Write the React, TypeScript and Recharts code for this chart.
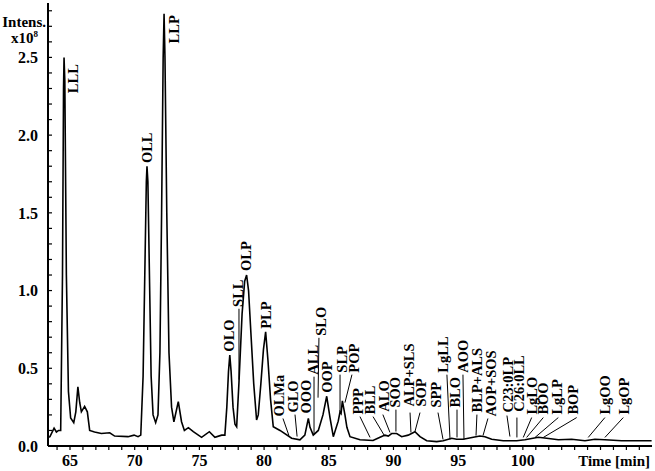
import React from "react";
import {
  LineChart,
  Line,
  XAxis,
  YAxis,
  ReferenceLine,
  ReferenceDot,
} from "recharts";

// retention time [min] and intensity [x10^8]
const times = [
  63.3, 63.45, 63.77, 63.95, 64.12, 64.28, 64.42, 64.5, 64.54, 64.6, 64.72,
  64.88, 65.05, 65.29, 65.45, 65.61, 65.75, 65.88, 66.13, 66.34, 66.52, 66.9,
  67.42, 68.07, 68.45, 69.48, 69.95, 70.26, 70.47, 70.65, 70.8, 70.9, 70.95,
  71.02, 71.12, 71.27, 71.42, 71.62, 71.8, 71.95, 72.08, 72.2, 72.27, 72.34,
  72.48, 72.65, 72.85, 73.03, 73.37, 73.62, 73.84, 74.15, 74.53, 75.17, 75.77,
  76.2, 76.72, 76.97, 77.12, 77.25, 77.35, 77.45, 77.6, 77.75, 77.88, 78.06,
  78.3, 78.5, 78.65, 78.8, 79.0, 79.2, 79.42, 79.55, 79.75, 79.95, 80.12, 80.3,
  80.5, 80.71, 81.23, 82.13, 82.77, 83.15, 83.3, 83.42, 83.55, 83.8, 84.19,
  84.55, 84.84, 85.1, 85.35, 85.73, 85.87, 85.95, 86.05, 86.25, 86.4, 86.64,
  87.41, 88.42, 88.96, 89.34, 89.6, 89.86, 90.25, 90.63, 91.14, 91.66, 92.05,
  92.57, 93.34, 93.85, 94.5, 94.88, 95.39, 96.17, 96.68, 97.07, 97.59, 98.48,
  99.52, 100.16, 101.19, 101.84, 102.74, 103.77, 104.8, 105.57, 106.34, 107.63,
  108.92, 109.95,
];
const intensity = [
  0.055, 0.06, 0.115, 0.09, 0.1, 0.1, 1.1, 2.3, 2.5, 2.35, 1.1, 0.35, 0.18,
  0.15, 0.22, 0.38, 0.28, 0.22, 0.255, 0.22, 0.1, 0.09, 0.08, 0.085, 0.064,
  0.06, 0.07, 0.06, 0.07, 0.45, 1.2, 1.7, 1.8, 1.7, 1.2, 0.45, 0.2, 0.15, 0.2,
  0.6, 1.5, 2.5, 2.78, 2.5, 1.5, 0.6, 0.25, 0.156, 0.285, 0.156, 0.1, 0.118,
  0.092, 0.056, 0.092, 0.056, 0.07, 0.07, 0.25, 0.48, 0.585, 0.48, 0.25, 0.14,
  0.124, 0.41, 0.85, 1.06, 1.1, 1.0, 0.7, 0.4, 0.167, 0.2, 0.4, 0.62, 0.735,
  0.55, 0.3, 0.124, 0.1, 0.05, 0.04, 0.07, 0.13, 0.178, 0.12, 0.07, 0.1, 0.2,
  0.32, 0.18, 0.06, 0.16, 0.22, 0.21, 0.29, 0.2, 0.12, 0.06, 0.04, 0.035,
  0.056, 0.07, 0.064, 0.08, 0.08, 0.06, 0.07, 0.092, 0.06, 0.034, 0.028,
  0.034, 0.05, 0.043, 0.043, 0.056, 0.064, 0.06, 0.043, 0.034, 0.034, 0.04,
  0.056, 0.05, 0.04, 0.043, 0.034, 0.043, 0.04, 0.034, 0.034, 0.034,
];

const xTicks = [
  64, 65, 66, 67, 68, 69, 70, 71, 72, 73, 74, 75, 76, 77, 78, 79, 80, 81, 82,
  83, 84, 85, 86, 87, 88, 89, 90, 91, 92, 93, 94, 95, 96, 97, 98, 99, 100, 101,
  102, 103, 104, 105, 106, 107, 108, 109,
];
const xLabels = [65, 70, 75, 80, 85, 90, 95, 100];
const yTicks = [
  0, 0.1, 0.2, 0.3, 0.4, 0.5, 0.6, 0.7, 0.8, 0.9, 1.0, 1.1, 1.2, 1.3, 1.4, 1.5,
  1.6, 1.7, 1.8, 1.9, 2.0, 2.1, 2.2, 2.3, 2.4, 2.5, 2.6, 2.7, 2.8,
];
const yLabels = [0, 0.5, 1.0, 1.5, 2.0, 2.5];

// peak annotations: label foot (t, v) and optional leader line
type Peak = { name: string; t: number; v: number; line?: number[] };
const peaks: Peak[] = [
  { name: "LLL", t: 65.23, v: 2.27 },
  { name: "OLL", t: 70.95, v: 1.82 },
  { name: "LLP", t: 73.04, v: 2.59 },
  { name: "OLO", t: 77.29, v: 0.607 },
  { name: "SLL", t: 77.98, v: 0.895, line: [78.06, 0.883, 78.06, 0.427] },
  { name: "OLP", t: 78.6, v: 1.126 },
  { name: "PLP", t: 80.15, v: 0.754 },
  { name: "OLMa", t: 81.15, v: 0.189, line: [81.46, 0.177, 81.92, 0.067] },
  { name: "GLO", t: 82.23, v: 0.215, line: [82.39, 0.202, 82.55, 0.061] },
  { name: "OOO", t: 83.24, v: 0.209 },
  { name: "ALL", t: 83.78, v: 0.459, line: [83.86, 0.446, 83.86, 0.074] },
  { name: "SLO", t: 84.4, v: 0.709, line: [84.24, 0.696, 84.17, 0.311] },
  { name: "OOP", t: 84.87, v: 0.343 },
  { name: "SLP", t: 86.02, v: 0.472, line: [85.87, 0.459, 85.87, 0.221] },
  { name: "POP", t: 86.95, v: 0.472, line: [86.79, 0.459, 86.25, 0.279] },
  { name: "PPP", t: 87.26, v: 0.202, line: [87.41, 0.189, 88.19, 0.055] },
  { name: "BLL", t: 88.18, v: 0.202, line: [88.42, 0.189, 89.34, 0.061] },
  { name: "ALO", t: 89.26, v: 0.221, line: [89.18, 0.202, 89.73, 0.087] },
  { name: "SOO", t: 90.12, v: 0.247, line: [90.19, 0.234, 90.19, 0.093] },
  { name: "ALP+SLS", t: 91.2, v: 0.254, line: [91.28, 0.215, 91.35, 0.087] },
  { name: "SOP", t: 92.13, v: 0.254, line: [92.05, 0.215, 91.66, 0.093] },
  { name: "SPP", t: 93.28, v: 0.247, line: [93.44, 0.215, 93.83, 0.042] },
  { name: "LgLL", t: 93.83, v: 0.472, line: [94.13, 0.459, 94.37, 0.042] },
  { name: "BLO", t: 94.75, v: 0.247, line: [94.91, 0.234, 94.91, 0.055] },
  { name: "AOO", t: 95.37, v: 0.472, line: [95.37, 0.459, 95.45, 0.042] },
  { name: "BLP+ALS", t: 96.45, v: 0.215, line: [96.45, 0.202, 96.38, 0.067] },
  { name: "AOP+SOS", t: 97.53, v: 0.189, line: [97.3, 0.177, 96.92, 0.067] },
  { name: "C23:0LP", t: 98.81, v: 0.215, line: [98.77, 0.196, 99.0, 0.061] },
  { name: "C26:0LL", t: 99.7, v: 0.221, line: [99.54, 0.183, 99.54, 0.055] },
  { name: "LgLO", t: 100.68, v: 0.202, line: [100.68, 0.183, 100.03, 0.055] },
  { name: "BOO", t: 101.58, v: 0.202, line: [101.58, 0.183, 100.29, 0.055] },
  { name: "LgLP", t: 102.67, v: 0.202, line: [102.74, 0.183, 100.94, 0.055] },
  { name: "BOP", t: 103.83, v: 0.202, line: [104.16, 0.183, 101.58, 0.055] },
  { name: "LgOO", t: 106.34, v: 0.202, line: [106.34, 0.183, 105.05, 0.055] },
  { name: "LgOP", t: 107.81, v: 0.202, line: [107.76, 0.183, 106.34, 0.055] },
];

const data = times.map((t, i) => ({ t, v: intensity[i] }));

const FONT = "'Liberation Serif', 'Times New Roman', serif";
const X_DOMAIN: [number, number] = [63.3, 109.98];
const Y_DOMAIN: [number, number] = [0, 2.85];

const tickStyle = { fontFamily: FONT, fontWeight: "bold", fontSize: 16, fill: "#000" };

function peakShape(name: string) {
  return (p: any) => (
    <text
      transform={`translate(${p.cx},${p.cy}) rotate(-90)`}
      dy="0.35em"
      fontFamily={FONT}
      fontWeight="bold"
      fontSize={14.5}
      fill="#000"
    >
      {name}
    </text>
  );
}

function Chromatogram() {
  return (
    <div style={{ position: "absolute", left: 0, top: 0, width: 655, height: 471, background: "#fff" }}>
      <LineChart
        width={655}
        height={471}
        data={data}
        margin={{ top: 3, right: 3, bottom: 0, left: 8 }}
      >
        <XAxis
          dataKey="t"
          type="number"
          domain={X_DOMAIN}
          allowDataOverflow
          ticks={xTicks}
          interval={0}
          height={25}
          tickSize={4}
          tickMargin={5}
          tickFormatter={(v: number) => (xLabels.includes(v) ? String(v) : "")}
          tick={tickStyle}
          axisLine={{ stroke: "#000", strokeWidth: 2 }}
          tickLine={{ stroke: "#000", strokeWidth: 1.2 }}
        />
        <XAxis
          xAxisId="top"
          orientation="top"
          dataKey="t"
          type="number"
          domain={X_DOMAIN}
          allowDataOverflow
          height={0}
          tick={false}
          tickLine={false}
          axisLine={{ stroke: "#000", strokeWidth: 2 }}
        />
        <YAxis
          type="number"
          domain={Y_DOMAIN}
          allowDataOverflow
          ticks={yTicks}
          interval={0}
          width={40}
          tickSize={-4}
          tickMargin={14}
          tickFormatter={(v: number) =>
            yLabels.some((l) => Math.abs(l - v) < 1e-6) ? v.toFixed(1) : ""
          }
          tick={tickStyle}
          axisLine={{ stroke: "#000", strokeWidth: 2 }}
          tickLine={{ stroke: "#000", strokeWidth: 1.2 }}
        />
        <YAxis
          yAxisId="right"
          orientation="right"
          type="number"
          domain={Y_DOMAIN}
          allowDataOverflow
          width={0}
          tick={false}
          tickLine={false}
          axisLine={{ stroke: "#000", strokeWidth: 2 }}
        />
        <Line
          type="linear"
          dataKey="v"
          stroke="#000"
          strokeWidth={1.6}
          dot={false}
          isAnimationActive={false}
        />
        {peaks
          .filter((p) => p.line)
          .map((p) => (
            <ReferenceLine
              key={"l" + p.name}
              segment={[
                { x: p.line![0], y: p.line![1] },
                { x: p.line![2], y: p.line![3] },
              ]}
              stroke="#000"
              strokeWidth={1}
              ifOverflow="visible"
            />
          ))}
        {peaks.map((p) => (
          <ReferenceDot
            key={"d" + p.name}
            x={p.t}
            y={p.v}
            r={0}
            shape={peakShape(p.name)}
          />
        ))}
      </LineChart>
      <svg
        width={655}
        height={471}
        style={{ position: "absolute", left: 0, top: 0, pointerEvents: "none" }}
      >
        <g fontFamily={FONT} fontWeight="bold" fill="#000">
          <text x={46} y={27} fontSize={15} textAnchor="end">
            Intens.
          </text>
          <text x={38} y={43} fontSize={15} textAnchor="end">
            x10
            <tspan dy={-6} fontSize={9}>
              8
            </tspan>
          </text>
          <text x={650} y={466} fontSize={15} textAnchor="end">
            Time [min]
          </text>
        </g>
      </svg>
    </div>
  );
}

export default function App() {
  return <Chromatogram />;
}
